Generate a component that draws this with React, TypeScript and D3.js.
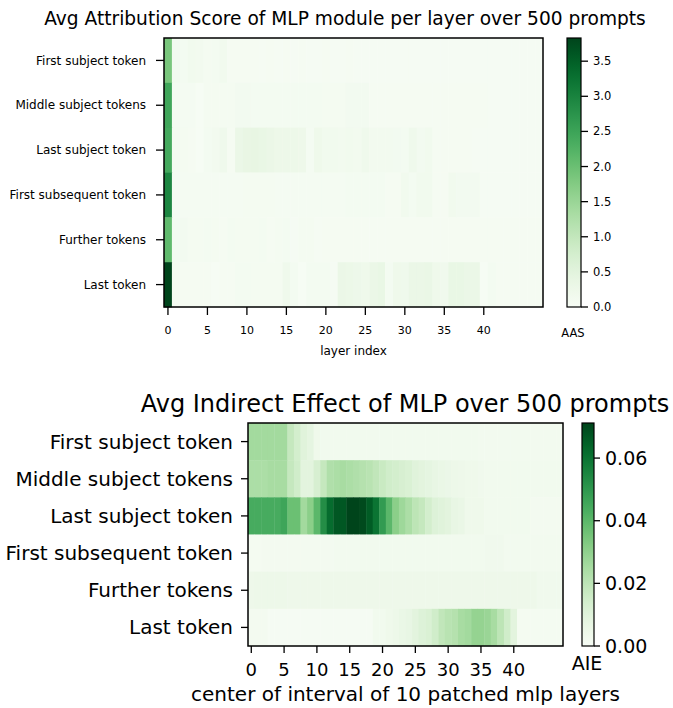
import * as d3 from 'd3';

// token positions (rows of both heatmaps)
const tokenRows = [
  'First subject token',
  'Middle subject tokens',
  'Last subject token',
  'First subsequent token',
  'Further tokens',
  'Last token',
];

const xTickValues = [0, 5, 10, 15, 20, 25, 30, 35, 40];
const aasTickValues = [0, 0.5, 1, 1.5, 2, 2.5, 3, 3.5];
const aieTickValues = [0, 0.02, 0.04, 0.06];
const aasMax = 3.83;
const aieMax = 0.0712;

// Avg Attribution Score, 48 layers per row
const aasFirstSubject = [
  1.85, 0.14, 0.10, 0.16, 0.13, 0.09, 0.10, 0.15, 0.06, 0.06, 0.06, 0.06,
  0.05, 0.06, 0.05, 0.06, 0.05, 0.06, 0.05, 0.05, 0.06, 0.05, 0.05, 0.06,
  0.05, 0.05, 0.05, 0.05, 0.05, 0.05, 0.05, 0.05, 0.05, 0.05, 0.05, 0.05,
  0.05, 0.05, 0.05, 0.05, 0.05, 0.05, 0.05, 0.05, 0.05, 0.05, 0.05, 0.05,
];
const aasMiddleSubject = [
  2.45, 0.07, 0.07, 0.07, 0.03, 0.08, 0.08, 0.08, 0.08, 0.12, 0.12, 0.10,
  0.10, 0.10, 0.10, 0.10, 0.10, 0.10, 0.10, 0.10, 0.08, 0.08, 0.08, 0.12,
  0.12, 0.12, 0.06, 0.06, 0.06, 0.06, 0.06, 0.06, 0.06, 0.06, 0.06, 0.06,
  0.06, 0.06, 0.06, 0.06, 0.06, 0.05, 0.05, 0.05, 0.05, 0.05, 0.05, 0.05,
];
const aasLastSubject = [
  2.40, 0.10, 0.08, 0.06, 0.03, 0.10, 0.14, 0.20, 0.06, 0.30, 0.36, 0.38,
  0.35, 0.30, 0.26, 0.26, 0.26, 0.24, 0.07, 0.22, 0.16, 0.16, 0.14, 0.16,
  0.14, 0.20, 0.14, 0.14, 0.14, 0.12, 0.10, 0.20, 0.12, 0.16, 0.06, 0.06,
  0.06, 0.06, 0.06, 0.05, 0.05, 0.05, 0.05, 0.05, 0.05, 0.05, 0.05, 0.05,
];
const aasFirstSubsequent = [
  2.95, 0.07, 0.07, 0.07, 0.07, 0.07, 0.07, 0.07, 0.07, 0.07, 0.08, 0.08,
  0.08, 0.08, 0.07, 0.07, 0.07, 0.07, 0.07, 0.07, 0.07, 0.07, 0.07, 0.10,
  0.10, 0.10, 0.10, 0.10, 0.06, 0.06, 0.15, 0.10, 0.15, 0.15, 0.06, 0.06,
  0.15, 0.12, 0.12, 0.12, 0.05, 0.05, 0.05, 0.05, 0.05, 0.05, 0.05, 0.05,
];
const aasFurther = [
  2.10, 0.10, 0.12, 0.08, 0.08, 0.10, 0.08, 0.06, 0.10, 0.08, 0.08, 0.08,
  0.10, 0.06, 0.08, 0.10, 0.04, 0.09, 0.09, 0.04, 0.06, 0.06, 0.06, 0.06,
  0.06, 0.06, 0.06, 0.06, 0.06, 0.06, 0.06, 0.06, 0.06, 0.06, 0.06, 0.06,
  0.06, 0.06, 0.06, 0.06, 0.06, 0.06, 0.06, 0.06, 0.06, 0.06, 0.06, 0.06,
];
const aasLast = [
  3.83, 0.08, 0.06, 0.06, 0.06, 0.06, 0.03, 0.06, 0.06, 0.10, 0.10, 0.08,
  0.08, 0.08, 0.08, 0.20, 0.10, 0.03, 0.10, 0.10, 0.10, 0.05, 0.30, 0.28,
  0.25, 0.22, 0.30, 0.35, 0.10, 0.22, 0.20, 0.30, 0.30, 0.32, 0.22, 0.18,
  0.35, 0.35, 0.30, 0.30, 0.03, 0.10, 0.06, 0.06, 0.06, 0.06, 0.06, 0.06,
];

// Avg Indirect Effect, 48 window centers per row
const aieFirstSubject = [
  0.026, 0.026, 0.026, 0.026, 0.026, 0.026, 0.018, 0.014, 0.010, 0.008, 0.004, 0.003,
  0.003, 0.003, 0.003, 0.003, 0.003, 0.003, 0.003, 0.003, 0.003, 0.003, 0.003, 0.003,
  0.003, 0.003, 0.003, 0.003, 0.003, 0.003, 0.003, 0.003, 0.003, 0.003, 0.003, 0.0025,
  0.0025, 0.0025, 0.0025, 0.0025, 0.0025, 0.0025, 0.0025, 0.0025, 0.0025, 0.0025, 0.0025, 0.0025,
];
const aieMiddleSubject = [
  0.024, 0.024, 0.024, 0.025, 0.025, 0.025, 0.018, 0.015, 0.009, 0.009, 0.013, 0.018,
  0.023, 0.024, 0.025, 0.024, 0.023, 0.022, 0.021, 0.019, 0.017, 0.015, 0.014, 0.013,
  0.012, 0.010, 0.009, 0.008, 0.007, 0.006, 0.0055, 0.005, 0.0045, 0.004, 0.004, 0.0035,
  0.003, 0.003, 0.003, 0.003, 0.003, 0.003, 0.003, 0.003, 0.003, 0.003, 0.003, 0.003,
];
const aieLastSubject = [
  0.044, 0.044, 0.044, 0.044, 0.044, 0.046, 0.037, 0.037, 0.026, 0.031, 0.040, 0.053,
  0.062, 0.067, 0.067, 0.0712, 0.0712, 0.070, 0.066, 0.060, 0.049, 0.040, 0.031, 0.027,
  0.024, 0.020, 0.018, 0.014, 0.011, 0.010, 0.009, 0.007, 0.006, 0.004, 0.004, 0.004,
  0.003, 0.003, 0.003, 0.003, 0.003, 0.003, 0.003, 0.002, 0.002, 0.002, 0.002, 0.002,
];
const aieFirstSubsequent = [
  0.0015, 0.0015, 0.002, 0.002, 0.002, 0.002, 0.002, 0.002, 0.002, 0.002, 0.002, 0.002,
  0.002, 0.0025, 0.0025, 0.0025, 0.0025, 0.003, 0.003, 0.003, 0.003, 0.003, 0.003, 0.003,
  0.003, 0.003, 0.003, 0.003, 0.003, 0.003, 0.003, 0.003, 0.003, 0.003, 0.003, 0.003,
  0.0035, 0.0035, 0.0035, 0.0025, 0.0025, 0.0025, 0.0025, 0.0025, 0.0025, 0.0025, 0.0025, 0.0025,
];
const aieFurther = [
  0.0045, 0.005, 0.005, 0.005, 0.005, 0.005, 0.0045, 0.0045, 0.0045, 0.0045, 0.0045, 0.0045,
  0.0045, 0.0045, 0.0045, 0.0045, 0.0045, 0.0045, 0.0045, 0.0045, 0.0045, 0.0045, 0.0045, 0.0045,
  0.0045, 0.0045, 0.0045, 0.0045, 0.0045, 0.0045, 0.0045, 0.0045, 0.0045, 0.0045, 0.0045, 0.0045,
  0.0045, 0.0045, 0.0045, 0.0045, 0.0045, 0.0045, 0.0045, 0.0045, 0.0035, 0.0035, 0.0035, 0.0035,
];
const aieLast = [
  0.002, 0.002, 0.002, 0.001, 0.001, 0.001, 0.001, 0.001, 0.001, 0.001, 0.001, 0.001,
  0.001, 0.001, 0.001, 0.001, 0.001, 0.001, 0.001, 0.003, 0.003, 0.004, 0.005, 0.006,
  0.007, 0.009, 0.011, 0.012, 0.015, 0.019, 0.021, 0.022, 0.025, 0.026, 0.029, 0.029,
  0.028, 0.025, 0.020, 0.015, 0.009, 0.0015, 0.0015, 0.0015, 0.0015, 0.0015, 0.0015, 0.0015,
];

const aasRows = [aasFirstSubject, aasMiddleSubject, aasLastSubject, aasFirstSubsequent, aasFurther, aasLast];
const aieRows = [aieFirstSubject, aieMiddleSubject, aieLastSubject, aieFirstSubsequent, aieFurther, aieLast];

const FONT = 'DejaVu Sans, sans-serif';

type PanelProps = {
  id: string;
  values: number[][];
  vmax: number;
  cbarTicks: number[];
  cbarFormat: string;
  cbarLabel: string;
  title: string;
  xLabel: string;
  box: { left: number; right: number; top: number; bottom: number };
  cbar: { left: number; right: number };
  titleX: number;
  titleY: number;
  titleSize: number;
  yLabelSize: number;
  xTickSize: number;
  xLabelSize: number;
  cbarSize: number;
  xTickY: number;
  xLabelY: number;
  cbarLabelX: number;
  cbarLabelY: number;
  tickLen: number;
  yPad: number;
};

function Panel(p: PanelProps) {
  const { left, right, top, bottom } = p.box;
  const nCols = p.values[0].length;
  const x = d3.scaleBand<number>().domain(d3.range(nCols)).range([left, right]);
  const y = d3.scaleBand<string>().domain(tokenRows).range([top, bottom]);
  const color = d3.scaleSequential(d3.interpolateGreens).domain([0, p.vmax]);
  const cy = d3.scaleLinear().domain([0, p.vmax]).range([bottom, top]);
  const fmt = d3.format(p.cbarFormat);
  const stops = d3.range(0, 1.0001, 0.05);

  return (
    <g>
      <defs>
        <linearGradient id={p.id} x1="0" y1="1" x2="0" y2="0">
          {stops.map(s => (
            <stop key={s} offset={s} stopColor={d3.interpolateGreens(s)} />
          ))}
        </linearGradient>
      </defs>

      <text x={p.titleX} y={p.titleY} fontSize={p.titleSize} textAnchor="middle">{p.title}</text>

      {p.values.map((row, ri) =>
        row.map((v, ci) => (
          <rect
            key={`${ri}-${ci}`}
            x={x(ci)}
            y={y(tokenRows[ri])}
            width={x.bandwidth() + 0.4}
            height={y.bandwidth() + 0.4}
            fill={color(v)}
          />
        ))
      )}
      <rect x={left} y={top} width={right - left} height={bottom - top} fill="none" stroke="#000" strokeWidth={1.5} />

      {tokenRows.map(r => {
        const yy = (y(r) ?? 0) + y.bandwidth() / 2;
        return (
          <g key={r}>
            <line x1={left - p.tickLen} x2={left} y1={yy} y2={yy} stroke="#000" strokeWidth={1.3} />
            <text x={left - p.yPad} y={yy} dy="0.35em" fontSize={p.yLabelSize} textAnchor="end">{r}</text>
          </g>
        );
      })}

      {xTickValues.map(t => {
        const xx = (x(t) ?? 0) + x.bandwidth() / 2;
        return (
          <g key={t}>
            <line x1={xx} x2={xx} y1={bottom} y2={bottom + p.tickLen} stroke="#000" strokeWidth={1.3} />
            <text x={xx} y={p.xTickY} fontSize={p.xTickSize} textAnchor="middle">{t}</text>
          </g>
        );
      })}
      <text x={(left + right) / 2} y={p.xLabelY} fontSize={p.xLabelSize} textAnchor="middle">{p.xLabel}</text>

      <rect x={p.cbar.left} y={top} width={p.cbar.right - p.cbar.left} height={bottom - top} fill={`url(#${p.id})`} stroke="#000" strokeWidth={1.2} />
      {p.cbarTicks.map(t => (
        <g key={t}>
          <line x1={p.cbar.right} x2={p.cbar.right + p.tickLen - 1} y1={cy(t)} y2={cy(t)} stroke="#000" strokeWidth={1.3} />
          <text x={p.cbar.right + p.tickLen + 4} y={cy(t)} dy="0.35em" fontSize={p.cbarSize}>{fmt(t)}</text>
        </g>
      ))}
      <text x={p.cbarLabelX} y={p.cbarLabelY} fontSize={p.cbarSize} textAnchor="middle">{p.cbarLabel}</text>
    </g>
  );
}

export default function App() {
  return (
    <svg
      width={673}
      height={708}
      style={{ position: 'absolute', left: 0, top: 0, background: '#fff' }}
      fontFamily={FONT}
      fill="#000"
    >
      <Panel
        id="aasGrad"
        values={aasRows}
        vmax={aasMax}
        cbarTicks={aasTickValues}
        cbarFormat=".1f"
        cbarLabel="AAS"
        title="Avg Attribution Score of MLP module per layer over 500 prompts"
        xLabel="layer index"
        box={{ left: 164, right: 543, top: 38, bottom: 307 }}
        cbar={{ left: 567, right: 581 }}
        titleX={345}
        titleY={25}
        titleSize={18.6}
        yLabelSize={12}
        xTickSize={11}
        xLabelSize={12}
        cbarSize={11.5}
        xTickY={334}
        xLabelY={355}
        cbarLabelX={573}
        cbarLabelY={337}
        tickLen={8}
        yPad={18}
      />
      <Panel
        id="aieGrad"
        values={aieRows}
        vmax={aieMax}
        cbarTicks={aieTickValues}
        cbarFormat=".2f"
        cbarLabel="AIE"
        title="Avg Indirect Effect of MLP over 500 prompts"
        xLabel="center of interval of 10 patched mlp layers"
        box={{ left: 248, right: 563, top: 423, bottom: 646 }}
        cbar={{ left: 582, right: 594 }}
        titleX={405}
        titleY={412}
        titleSize={24}
        yLabelSize={20}
        xTickSize={18}
        xLabelSize={20}
        cbarSize={19}
        xTickY={676}
        xLabelY={701}
        cbarLabelX={587}
        cbarLabelY={670}
        tickLen={7}
        yPad={15}
      />
    </svg>
  );
}
